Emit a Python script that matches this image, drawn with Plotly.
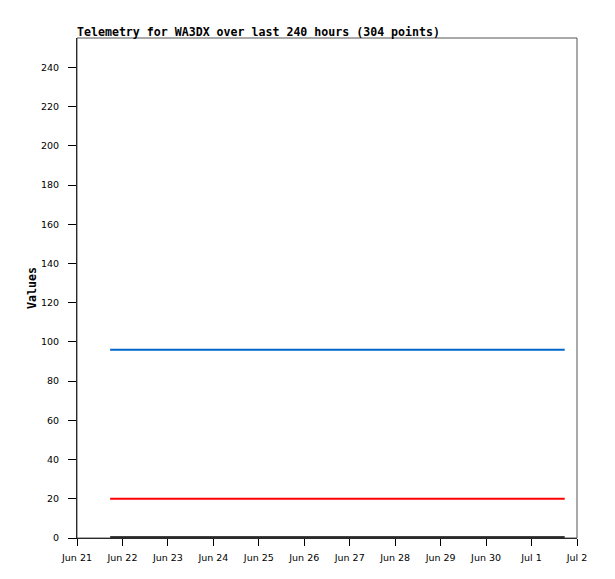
import plotly.graph_objects as go

# Data
times = ["2023-06-21 17:30", "2023-07-01 17:30"]
series_blue = [96, 96]
series_red = [20, 20]
series_black = [0, 0]

x_tick_vals = ["2023-06-21", "2023-06-22", "2023-06-23", "2023-06-24", "2023-06-25", "2023-06-26",
               "2023-06-27", "2023-06-28", "2023-06-29", "2023-06-30", "2023-07-01", "2023-07-02"]
x_tick_text = ["Jun 21", "Jun 22", "Jun 23", "Jun 24", "Jun 25", "Jun 26",
               "Jun 27", "Jun 28", "Jun 29", "Jun 30", "Jul 1", "Jul 2"]
y_tick_vals = [0, 20, 40, 60, 80, 100, 120, 140, 160, 180, 200, 220, 240]

title_text = "Telemetry for WA3DX over last 240 hours (304 points)"

W, H = 599, 563

fig = go.Figure()
fig.add_trace(go.Scatter(x=times, y=series_blue, mode="lines",
                         line=dict(color="#0066cc", width=2), hoverinfo="skip"))
fig.add_trace(go.Scatter(x=times, y=series_red, mode="lines",
                         line=dict(color="#ff0000", width=2), hoverinfo="skip"))
fig.add_trace(go.Scatter(x=times, y=series_black, mode="lines",
                         line=dict(color="#000000", width=3.5), hoverinfo="skip"))

tick_font = dict(family="DejaVu Sans", size=9.5, color="#000000")

fig.update_layout(
    width=W, height=H,
    margin=dict(l=69, r=30, t=30, b=33, pad=0, autoexpand=False),
    paper_bgcolor="white", plot_bgcolor="white",
    showlegend=False,
    title=dict(text="<b>" + title_text + "</b>", x=69 / W, xanchor="left",
               y=1 - 23.5 / H, yanchor="middle", automargin=False,
               font=dict(family="DejaVu Sans Mono", size=11.6, color="#000000")),
    shapes=[dict(type="rect", xref="paper", yref="paper", x0=0, x1=1, y0=0, y1=1,
                 line=dict(color="#555555", width=1), layer="above")],
)

fig.update_xaxes(
    type="date", range=["2023-06-21", "2023-07-02"],
    tickmode="array", tickvals=x_tick_vals, ticktext=x_tick_text,
    showgrid=False, zeroline=False, automargin=False,
    showline=True, linecolor="#000000", linewidth=1,
    ticks="outside", ticklen=7, tickcolor="#000000", tickwidth=1,
    ticklabelstandoff=4,
    tickfont=tick_font,
)
fig.update_yaxes(
    range=[0, 255], tickmode="array", tickvals=y_tick_vals,
    showgrid=False, zeroline=False, automargin=False,
    showline=True, linecolor="#000000", linewidth=1,
    ticks="outside", ticklen=8, tickcolor="#000000", tickwidth=1,
    ticklabelstandoff=7,
    tickfont=tick_font,
    title=dict(text="<b>Values</b>", standoff=1,
               font=dict(family="DejaVu Sans Mono", size=11.6, color="#000000")),
)

fig.write_html("out.html")
